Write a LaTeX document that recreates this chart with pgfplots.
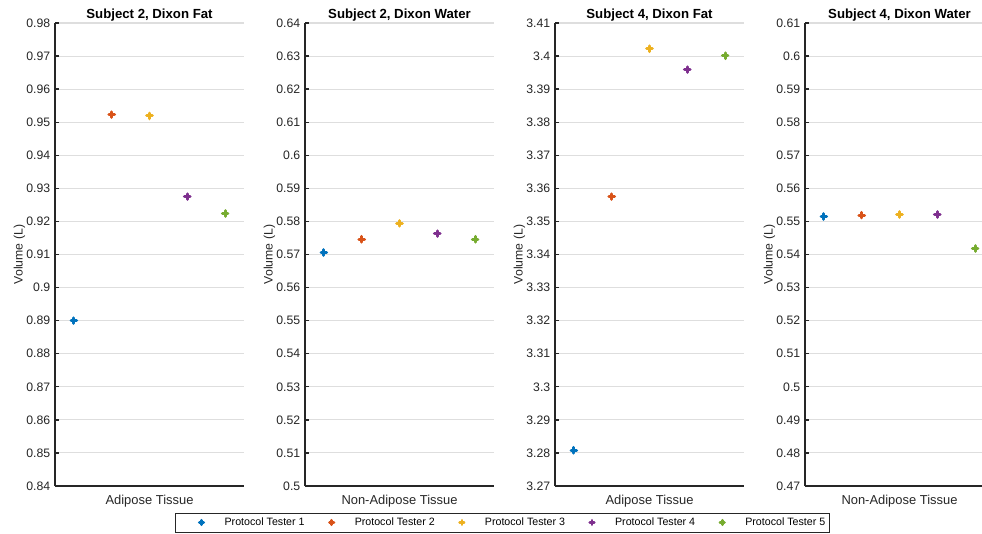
\documentclass[border=0pt]{standalone}
\usepackage{pgfplots}
\pgfplotsset{compat=1.18}
\usepackage{fontspec}
\setmainfont{Liberation Sans}
\definecolor{c1}{RGB}{0,114,189}
\definecolor{c2}{RGB}{217,83,25}
\definecolor{c3}{RGB}{237,177,32}
\definecolor{c4}{RGB}{126,47,142}
\definecolor{c5}{RGB}{119,172,48}
\definecolor{axc}{RGB}{38,38,38}
\pgfplotsset{
  panel/.style={
    scale only axis, width=141.75pt, height=347.25pt, anchor=south west,
    xmin=0.5, xmax=5.5, xtick=\empty,
    axis x line*=bottom, axis y line*=left,
    axis line style={line width=1pt, color=axc, -},
    ymajorgrids, grid style={color=black!13, line width=0.8pt},
    tick align=inside, major tick length=3pt,
    ytick style={line width=1pt, color=axc},
    /pgf/number format/assume math mode=true,
    yticklabel style={font=\fontsize{9.2}{10}\selectfont, color=axc,
      /pgf/number format/fixed, /pgf/number format/precision=2},
    ylabel={Volume (L)}, ylabel shift=-6pt,
    ylabel style={font=\fontsize{9.2}{10}\selectfont, color=axc},
    title style={font=\bfseries\fontsize{9.9}{11}\selectfont, color=black, yshift=-8.5pt},
    xlabel style={font=\fontsize{9.7}{11}\selectfont, color=axc, yshift=-3pt},
    every axis plot/.append style={only marks, mark=+, mark size=2.1pt,
      mark options={line width=2.3pt, line cap=round}},
  },
}
\begin{document}
\begin{tikzpicture}
\path[use as bounding box] (0,0) rectangle (736.5pt,399.75pt);

\begin{axis}[panel, at={(41.25pt,35.25pt)},
  title={Subject 2, Dixon Fat}, xlabel={Adipose Tissue},
  ymin=0.84, ymax=0.98,
  ytick={0.84,0.85,0.86,0.87,0.88,0.89,0.9,0.91,0.92,0.93,0.94,0.95,0.96,0.97,0.98},
  legend columns=5,
  legend style={at={(axis description cs:2.368,-0.0788)}, anchor=center,
    font=\fontsize{8}{9}\selectfont, draw=axc, line width=0.6pt,
    inner ysep=1.5pt, inner xsep=1pt,
    /tikz/every even column/.append style={column sep=0pt}},
  legend image code/.code={%
    \path (-18pt,0pt) (15pt,0pt);
    \draw[#1, mark size=1.7pt, mark options={line width=2pt, line cap=round}]
      plot coordinates {(0pt,0pt)};},
]
\addplot[color=c1] coordinates {(1,0.8900)};
\addplot[color=c2] coordinates {(2,0.9523)};
\addplot[color=c3] coordinates {(3,0.9519)};
\addplot[color=c4] coordinates {(4,0.9275)};
\addplot[color=c5] coordinates {(5,0.9224)};
\legend{Protocol Tester 1,Protocol Tester 2,Protocol Tester 3,Protocol Tester 4,Protocol Tester 5}
\end{axis}

\begin{axis}[panel, at={(228.75pt,35.25pt)},
  title={Subject 2, Dixon Water}, xlabel={Non-Adipose Tissue},
  ymin=0.5, ymax=0.64,
  ytick={0.5,0.51,0.52,0.53,0.54,0.55,0.56,0.57,0.58,0.59,0.6,0.61,0.62,0.63,0.64},
]
\addplot[color=c1] coordinates {(1,0.5706)};
\addplot[color=c2] coordinates {(2,0.5746)};
\addplot[color=c3] coordinates {(3,0.5794)};
\addplot[color=c4] coordinates {(4,0.5763)};
\addplot[color=c5] coordinates {(5,0.5746)};
\end{axis}

\begin{axis}[panel, at={(416.25pt,35.25pt)},
  title={Subject 4, Dixon Fat}, xlabel={Adipose Tissue},
  ymin=3.27, ymax=3.41,
  ytick={3.27,3.28,3.29,3.3,3.31,3.32,3.33,3.34,3.35,3.36,3.37,3.38,3.39,3.4,3.41},
]
\addplot[color=c1] coordinates {(1,3.2808)};
\addplot[color=c2] coordinates {(2,3.3575)};
\addplot[color=c3] coordinates {(3,3.4022)};
\addplot[color=c4] coordinates {(4,3.3959)};
\addplot[color=c5] coordinates {(5,3.4001)};
\end{axis}

\begin{axis}[panel, at={(603.75pt,35.25pt)},
  title={Subject 4, Dixon Water}, xlabel={Non-Adipose Tissue},
  ymin=0.47, ymax=0.61,
  ytick={0.47,0.48,0.49,0.5,0.51,0.52,0.53,0.54,0.55,0.56,0.57,0.58,0.59,0.6,0.61},
]
\addplot[color=c1] coordinates {(1,0.5515)};
\addplot[color=c2] coordinates {(2,0.5519)};
\addplot[color=c3] coordinates {(3,0.5521)};
\addplot[color=c4] coordinates {(4,0.5521)};
\addplot[color=c5] coordinates {(5,0.5418)};
\end{axis}
\end{tikzpicture}
\end{document}
